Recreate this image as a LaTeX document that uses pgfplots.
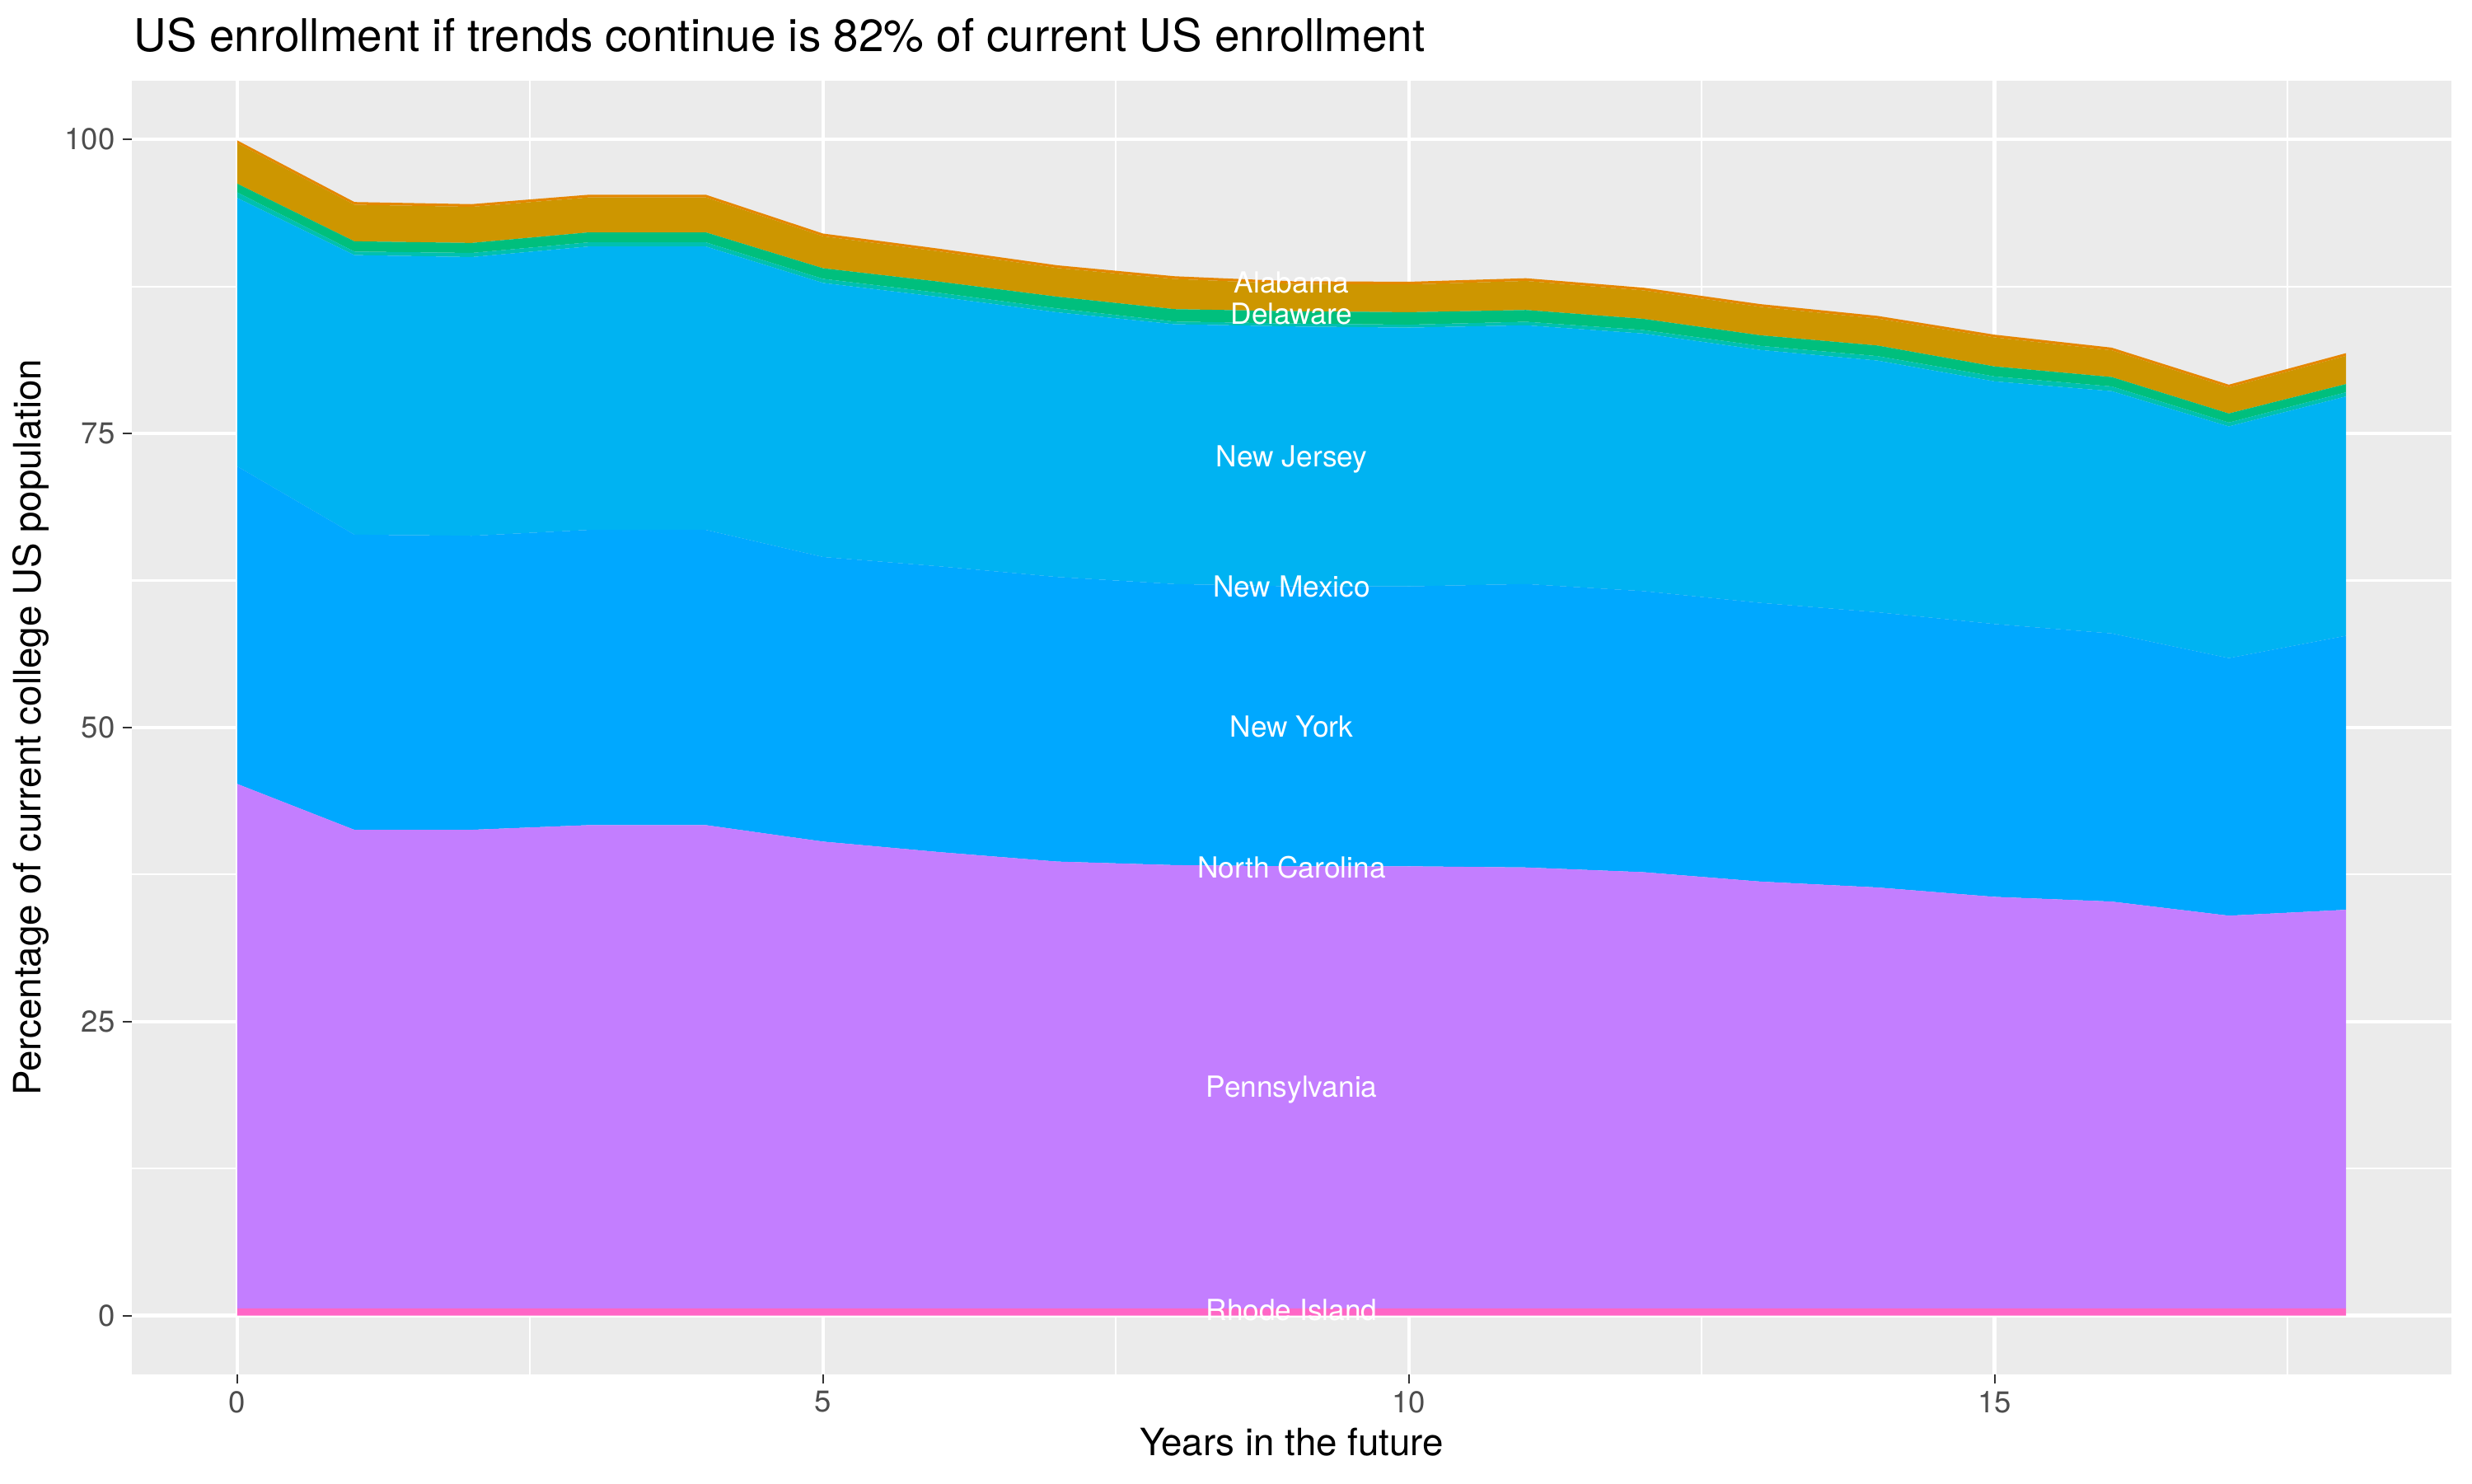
\documentclass[border=0pt]{standalone}
\usepackage{pgfplots}
\usepackage{pgfplotstable}
\pgfplotsset{compat=1.18}
\usepgfplotslibrary{fillbetween}
\usepackage{fontspec}
\setmainfont{TeX Gyre Heros}
\definecolor{panel}{HTML}{EBEBEB}
\definecolor{cRI}{HTML}{FF66C6}
\definecolor{cPA}{HTML}{C37EFF}
\definecolor{cNY}{HTML}{00A8FF}
\definecolor{cNJ}{HTML}{00B3F2}
\definecolor{cTE}{HTML}{00C0B0}
\definecolor{cGR}{HTML}{00BF7D}
\definecolor{cGO}{HTML}{CD9600}
\definecolor{cOR}{HTML}{E58700}
\definecolor{tickgrey}{HTML}{4D4D4D}
\definecolor{tickmark}{HTML}{333333}
\pgfplotstableread{
x  ri   pa    ny    nj     te    gr    go    orr
0  0.6  44.6  27.0  22.83  0.47  0.74  3.45  0.23
1  0.6  40.7  25.1  23.77  0.30  0.87  3.11  0.23
2  0.6  40.7  25.0  23.70  0.35  0.85  3.07  0.23
3  0.6  41.1  25.1  24.10  0.35  0.85  2.97  0.23
4  0.6  41.1  25.1  24.10  0.35  0.85  2.97  0.23
5  0.6  39.7  24.2  23.30  0.35  0.90  2.72  0.23
6  0.6  38.8  24.3  22.90  0.35  0.95  2.57  0.23
7  0.6  38.0  24.2  22.50  0.33  1.00  2.44  0.23
8  0.6  37.7  23.9  22.09  0.23  1.05  2.57  0.23
9  0.6  37.6  23.8  22.10  0.25  1.05  2.32  0.23
10 0.6  37.6  23.8  22.00  0.25  1.06  2.36  0.23
11 0.6  37.5  24.1  22.00  0.30  1.00  2.47  0.23
12 0.6  37.1  23.9  21.90  0.30  0.95  2.42  0.23
13 0.6  36.3  23.7  21.50  0.35  0.90  2.42  0.23
14 0.6  35.8  23.4  21.40  0.38  0.90  2.29  0.23
15 0.6  35.0  23.2  20.63  0.42  0.85  2.47  0.23
16 0.6  34.6  22.8  20.60  0.40  0.80  2.27  0.23
17 0.6  33.4  21.9  19.70  0.33  0.77  2.22  0.23
18 0.6  33.9  23.3  20.35  0.35  0.70  2.40  0.23
}\data
\begin{document}
\begin{tikzpicture}
\useasboundingbox (-38.4bp,-31.7bp) rectangle (681.6bp,400.3bp);
\begin{axis}[
  at={(0,0)}, anchor=south west,
  scale only axis, width=675.6bp, height=376.8bp,
  xmin=-0.9, xmax=18.9, ymin=-5, ymax=105,
  axis background/.style={fill=panel},
  axis line style={draw=none},
  xtick={0,5,10,15}, minor xtick={2.5,7.5,12.5,17.5},
  ytick={0,25,50,75,100}, minor ytick={12.5,37.5,62.5,87.5},
  grid=both,
  major grid style={white, line width=1.0bp},
  minor grid style={white, line width=0.5bp},
  tick align=outside, tick pos=left,
  major tick length=2.75pt, minor tick length=0pt,
  major tick style={tickmark, line width=0.5bp},
  /pgf/number format/assume math mode=true,
  ticklabel style={font=\fontsize{8.8}{10}\selectfont, text=tickgrey},
  xticklabel style={anchor=north, inner sep=0pt, yshift=-2bp},
  yticklabel style={anchor=east, inner sep=0pt, xshift=-2bp},
  stack plots=y,
]
\addplot[fill=cRI, draw=none, no markers] table[x=x,y=ri] {\data} \closedcycle;
\addplot[fill=cPA, draw=none, no markers] table[x=x,y=pa] {\data} \closedcycle;
\addplot[fill=cNY, draw=none, no markers] table[x=x,y=ny] {\data} \closedcycle;
\addplot[fill=cNJ, draw=none, no markers] table[x=x,y=nj] {\data} \closedcycle;
\addplot[fill=cTE, draw=none, no markers] table[x=x,y=te] {\data} \closedcycle;
\addplot[fill=cGR, draw=none, no markers] table[x=x,y=gr] {\data} \closedcycle;
\addplot[fill=cGO, draw=none, no markers] table[x=x,y=go] {\data} \closedcycle;
\addplot[fill=cOR, draw=none, no markers] table[x=x,y=orr] {\data} \closedcycle;
\coordinate (lAL) at (axis cs:9,87.85);
\coordinate (lDE) at (axis cs:9,85.2);
\coordinate (lNJ) at (axis cs:9,72.8);
\coordinate (lNM) at (axis cs:9,62.0);
\coordinate (lNY) at (axis cs:9,50.1);
\coordinate (lNC) at (axis cs:9,38.1);
\coordinate (lPA) at (axis cs:9,19.2);
\coordinate (lRI) at (axis cs:9,0.5);
\end{axis}
\begin{scope}[every node/.style={text=white, font=\fontsize{8.5}{9.5}\selectfont, inner sep=0pt}]
\node at (lAL) {Alabama};
\node at (lDE) {Delaware};
\node at (lNJ) {New Jersey};
\node at (lNM) {New Mexico};
\node at (lNY) {New York};
\node at (lNC) {North Carolina};
\node at (lPA) {Pennsylvania};
\node at (lRI) {Rhode Island};
\end{scope}
\node[anchor=base west, inner sep=0pt, font=\fontsize{13.2}{15}\selectfont] at (0.5bp,385.3bp) {US enrollment if trends continue is 82\% of current US enrollment};
\node[rotate=90, inner sep=0pt, font=\fontsize{11}{13}\selectfont] at (-29.4bp,188.4bp) {Percentage of current college US population};
\node[inner sep=0pt, font=\fontsize{11}{13}\selectfont] at (337.8bp,-19.8bp) {Years in the future};
\end{tikzpicture}
\end{document}
